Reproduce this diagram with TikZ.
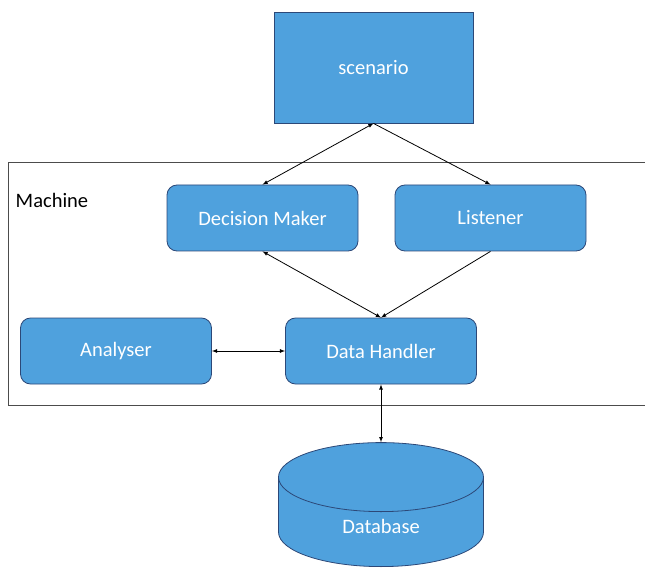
\documentclass[tikz,border=0pt]{standalone}
\usepackage{fontspec}
\setmainfont{Carlito}
\usetikzlibrary{shapes.geometric}

\definecolor{boxblue}{RGB}{79,161,221}
\definecolor{boxline}{RGB}{44,72,120}

\begin{document}
\begin{tikzpicture}
[x=1pt,y=-1pt,>=latex,line width=0.8pt,
box/.style={rectangle,rounded corners=10pt,draw=boxline,fill=boxblue,text=white,minimum width=191pt,minimum height=66pt,font=\fontsize{20.5}{24}\selectfont},
db/.style={cylinder,shape border rotate=90,aspect=0.82,draw=boxline,fill=boxblue,text=white,minimum width=205pt,minimum height=124pt,font=\fontsize{20.5}{24}\selectfont}]
\useasboundingbox (0,0) rectangle (645,569);
% machine frame, open on the right
\draw[black!70] (645,162) -| (8,405) -- (645,405);
\node[anchor=west,font=\fontsize{20.5}{24}\selectfont] at (12,200) (mach) {Machine};
\node[box,rounded corners=0pt,minimum width=199pt,minimum height=111pt] at (373.5,67.5) (scen) {scenario};
\node[box] at (262.5,218) (dm) {Decision Maker};
\node[box] at (490.5,218) (lis) {Listener};
\node[box] at (116,351) (an) {Analyser};
\node[box] at (381,351) (dh) {Data Handler};
\node[db,anchor=south] at (381,567) (base) {Database};
\draw[<->] (scen.south) -- (dm.north);
\draw[->] (scen.south) -- (lis.north);
\draw[<->] (dm.south) -- (dh.north);
\draw[->] (lis.south) -- (dh.north);
\draw[<->] (an.east) -- (dh.west);
\draw[<->] (dh.south) -- (base.north);
\end{tikzpicture}
\end{document}
